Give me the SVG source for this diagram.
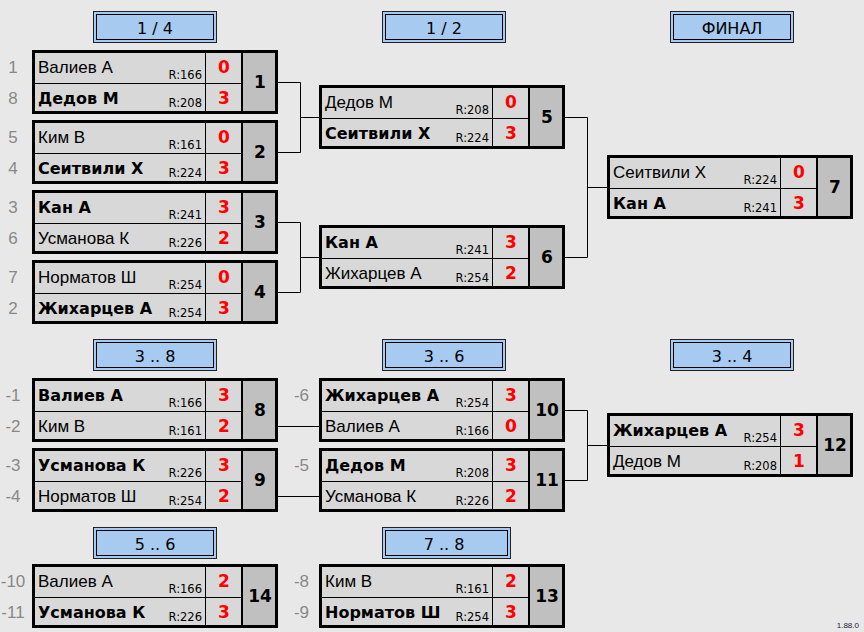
<svg xmlns="http://www.w3.org/2000/svg" xmlns:xlink="http://www.w3.org/1999/xlink" width="864" height="632" viewBox="0 0 864 632">
<style>
.nm{font-family:"Liberation Sans",Arial,sans-serif;font-size:17px;fill:#000}
.nb{font-family:"DejaVu Sans",Verdana,sans-serif;font-size:16px;font-weight:bold;fill:#000}
.r{font-family:"DejaVu Sans",Verdana,sans-serif;font-size:11.5px;fill:#000;text-anchor:end}
.sc{font-family:"DejaVu Sans",Verdana,sans-serif;font-size:17px;font-weight:bold;fill:#ff0000;text-anchor:middle}
.num{font-family:"DejaVu Sans",Verdana,sans-serif;font-size:17px;font-weight:bold;fill:#000;text-anchor:middle}
.sd{font-family:"Liberation Sans",Arial,sans-serif;font-size:17px;fill:#888;text-anchor:middle}
.hd{font-family:"DejaVu Sans",Verdana,sans-serif;font-size:16px;fill:#000;text-anchor:middle}
.ver{font-family:"Liberation Sans",Arial,sans-serif;font-size:8px;fill:#202040;text-anchor:end}
.ln{stroke:#000;stroke-width:1;fill:none}
</style>
<defs>
<g id="mframe">
<rect x="1.5" y="1.5" width="243" height="61" fill="#d8d8d8" stroke="#000" stroke-width="3"/>
<rect x="211" y="3" width="32" height="58" fill="#c0c0c0"/>
<line x1="210" y1="3" x2="210" y2="61" stroke="#000" stroke-width="2"/>
<line x1="3" y1="33.5" x2="209" y2="33.5" stroke="#000" stroke-width="1"/>
<line x1="173.5" y1="3" x2="173.5" y2="61" stroke="#000" stroke-width="1"/>
</g>
<g id="hdr">
<rect x="0.5" y="0.5" width="123" height="31" fill="#a6caf0" stroke="#222"/>
<rect x="3.5" y="3.5" width="117" height="25" fill="none" stroke="#000"/>
</g>
</defs>
<rect x="0" y="0" width="864" height="632" fill="#e8e8e8"/>

<g id="headers">
<g id="h-q"><use xlink:href="#hdr" x="93" y="11"/><text class="hd" x="155" y="33.5">1 / 4</text></g>
<g id="h-s"><use xlink:href="#hdr" x="382" y="11"/><text class="hd" x="444" y="33.5">1 / 2</text></g>
<g id="h-f"><use xlink:href="#hdr" x="670" y="11"/><text class="hd" x="732" y="33.5">ФИНАЛ</text></g>
<g id="h-38"><use xlink:href="#hdr" x="93" y="339"/><text class="hd" x="155" y="361.5">3 .. 8</text></g>
<g id="h-36"><use xlink:href="#hdr" x="382" y="339"/><text class="hd" x="444" y="361.5">3 .. 6</text></g>
<g id="h-34"><use xlink:href="#hdr" x="670" y="339"/><text class="hd" x="732" y="361.5">3 .. 4</text></g>
<g id="h-56"><use xlink:href="#hdr" x="93" y="527"/><text class="hd" x="155" y="549.5">5 .. 6</text></g>
<g id="h-78"><rect x="382.5" y="527.5" width="128" height="31" fill="#a6caf0" stroke="#222"/><rect x="385.5" y="530.5" width="122" height="25" fill="none" stroke="#000"/><text class="hd" x="444" y="549.5">7 .. 8</text></g>
</g>

<g id="connectors">
<path class="ln" d="M278 82.5H300.5V152.5H278M300.5 117.5H319"/>
<path class="ln" d="M278 222.5H300.5V292.5H278M300.5 257.5H319"/>
<path class="ln" d="M565 117.5H587.5V257.5H565M587.5 187.5H607"/>
<path class="ln" d="M278 426.5H319"/>
<path class="ln" d="M278 496.5H319"/>
<path class="ln" d="M565 410.5H587.5V480.5H565M587.5 445.5H607"/>
</g>

<g id="m1" transform="translate(32,50)">
<use xlink:href="#mframe"/>
<text class="sd" x="-19" y="23">1</text><text class="sd" x="-19" y="54">8</text>
<text class="nm" x="6" y="23">Валиев А</text><text class="r" x="170" y="28.5">R:166</text><text class="sc" x="192" y="23">0</text>
<text class="nb" x="6" y="54">Дедов М</text><text class="r" x="170" y="57">R:208</text><text class="sc" x="192" y="54">3</text>
<text class="num" x="228" y="38">1</text>
</g>
<g id="m2" transform="translate(32,120)">
<use xlink:href="#mframe"/>
<text class="sd" x="-19" y="23">5</text><text class="sd" x="-19" y="54">4</text>
<text class="nm" x="6" y="23">Ким В</text><text class="r" x="170" y="28.5">R:161</text><text class="sc" x="192" y="23">0</text>
<text class="nb" x="6" y="54">Сеитвили Х</text><text class="r" x="170" y="57">R:224</text><text class="sc" x="192" y="54">3</text>
<text class="num" x="228" y="38">2</text>
</g>
<g id="m3" transform="translate(32,190)">
<use xlink:href="#mframe"/>
<text class="sd" x="-19" y="23">3</text><text class="sd" x="-19" y="54">6</text>
<text class="nb" x="6" y="23">Кан А</text><text class="r" x="170" y="28.5">R:241</text><text class="sc" x="192" y="23">3</text>
<text class="nm" x="6" y="54">Усманова К</text><text class="r" x="170" y="57">R:226</text><text class="sc" x="192" y="54">2</text>
<text class="num" x="228" y="38">3</text>
</g>
<g id="m4" transform="translate(32,260)">
<use xlink:href="#mframe"/>
<text class="sd" x="-19" y="23">7</text><text class="sd" x="-19" y="54">2</text>
<text class="nm" x="6" y="23">Норматов Ш</text><text class="r" x="170" y="28.5">R:254</text><text class="sc" x="192" y="23">0</text>
<text class="nb" x="6" y="54">Жихарцев А</text><text class="r" x="170" y="57">R:254</text><text class="sc" x="192" y="54">3</text>
<text class="num" x="228" y="38">4</text>
</g>
<g id="m5" transform="translate(319,85)">
<use xlink:href="#mframe"/>
<text class="nm" x="6" y="23">Дедов М</text><text class="r" x="170" y="28.5">R:208</text><text class="sc" x="192" y="23">0</text>
<text class="nb" x="6" y="54">Сеитвили Х</text><text class="r" x="170" y="57">R:224</text><text class="sc" x="192" y="54">3</text>
<text class="num" x="228" y="38">5</text>
</g>
<g id="m6" transform="translate(319,225)">
<use xlink:href="#mframe"/>
<text class="nb" x="6" y="23">Кан А</text><text class="r" x="170" y="28.5">R:241</text><text class="sc" x="192" y="23">3</text>
<text class="nm" x="6" y="54">Жихарцев А</text><text class="r" x="170" y="57">R:254</text><text class="sc" x="192" y="54">2</text>
<text class="num" x="228" y="38">6</text>
</g>
<g id="m7" transform="translate(607,155)">
<use xlink:href="#mframe"/>
<text class="nm" x="6" y="23">Сеитвили Х</text><text class="r" x="170" y="28.5">R:224</text><text class="sc" x="192" y="23">0</text>
<text class="nb" x="6" y="54">Кан А</text><text class="r" x="170" y="57">R:241</text><text class="sc" x="192" y="54">3</text>
<text class="num" x="228" y="38">7</text>
</g>
<g id="m8" transform="translate(32,378)">
<use xlink:href="#mframe"/>
<text class="sd" x="-19" y="23">-1</text><text class="sd" x="-19" y="54">-2</text>
<text class="nb" x="6" y="23">Валиев А</text><text class="r" x="170" y="28.5">R:166</text><text class="sc" x="192" y="23">3</text>
<text class="nm" x="6" y="54">Ким В</text><text class="r" x="170" y="57">R:161</text><text class="sc" x="192" y="54">2</text>
<text class="num" x="228" y="38">8</text>
</g>
<g id="m9" transform="translate(32,448)">
<use xlink:href="#mframe"/>
<text class="sd" x="-19" y="23">-3</text><text class="sd" x="-19" y="54">-4</text>
<text class="nb" x="6" y="23">Усманова К</text><text class="r" x="170" y="28.5">R:226</text><text class="sc" x="192" y="23">3</text>
<text class="nm" x="6" y="54">Норматов Ш</text><text class="r" x="170" y="57">R:254</text><text class="sc" x="192" y="54">2</text>
<text class="num" x="228" y="38">9</text>
</g>
<g id="m10" transform="translate(319,378)">
<use xlink:href="#mframe"/>
<text class="sd" x="-17.5" y="23">-6</text>
<text class="nb" x="6" y="23">Жихарцев А</text><text class="r" x="170" y="28.5">R:254</text><text class="sc" x="192" y="23">3</text>
<text class="nm" x="6" y="54">Валиев А</text><text class="r" x="170" y="57">R:166</text><text class="sc" x="192" y="54">0</text>
<text class="num" x="228" y="38">10</text>
</g>
<g id="m11" transform="translate(319,448)">
<use xlink:href="#mframe"/>
<text class="sd" x="-17.5" y="23">-5</text>
<text class="nb" x="6" y="23">Дедов М</text><text class="r" x="170" y="28.5">R:208</text><text class="sc" x="192" y="23">3</text>
<text class="nm" x="6" y="54">Усманова К</text><text class="r" x="170" y="57">R:226</text><text class="sc" x="192" y="54">2</text>
<text class="num" x="228" y="38">11</text>
</g>
<g id="m12" transform="translate(607,413)">
<use xlink:href="#mframe"/>
<text class="nb" x="6" y="23">Жихарцев А</text><text class="r" x="170" y="28.5">R:254</text><text class="sc" x="192" y="23">3</text>
<text class="nm" x="6" y="54">Дедов М</text><text class="r" x="170" y="57">R:208</text><text class="sc" x="192" y="54">1</text>
<text class="num" x="228" y="38">12</text>
</g>
<g id="m14" transform="translate(32,564)">
<use xlink:href="#mframe"/>
<text class="sd" x="-19" y="23">-10</text><text class="sd" x="-19" y="54">-11</text>
<text class="nm" x="6" y="23">Валиев А</text><text class="r" x="170" y="28.5">R:166</text><text class="sc" x="192" y="23">2</text>
<text class="nb" x="6" y="54">Усманова К</text><text class="r" x="170" y="57">R:226</text><text class="sc" x="192" y="54">3</text>
<text class="num" x="228" y="38">14</text>
</g>
<g id="m13" transform="translate(319,564)">
<use xlink:href="#mframe"/>
<text class="sd" x="-17.5" y="23">-8</text><text class="sd" x="-17.5" y="54">-9</text>
<text class="nm" x="6" y="23">Ким В</text><text class="r" x="170" y="28.5">R:161</text><text class="sc" x="192" y="23">2</text>
<text class="nb" x="6" y="54">Норматов Ш</text><text class="r" x="170" y="57">R:254</text><text class="sc" x="192" y="54">3</text>
<text class="num" x="228" y="38">13</text>
</g>
<text class="ver" x="859" y="628">1.88.0</text>
</svg>
